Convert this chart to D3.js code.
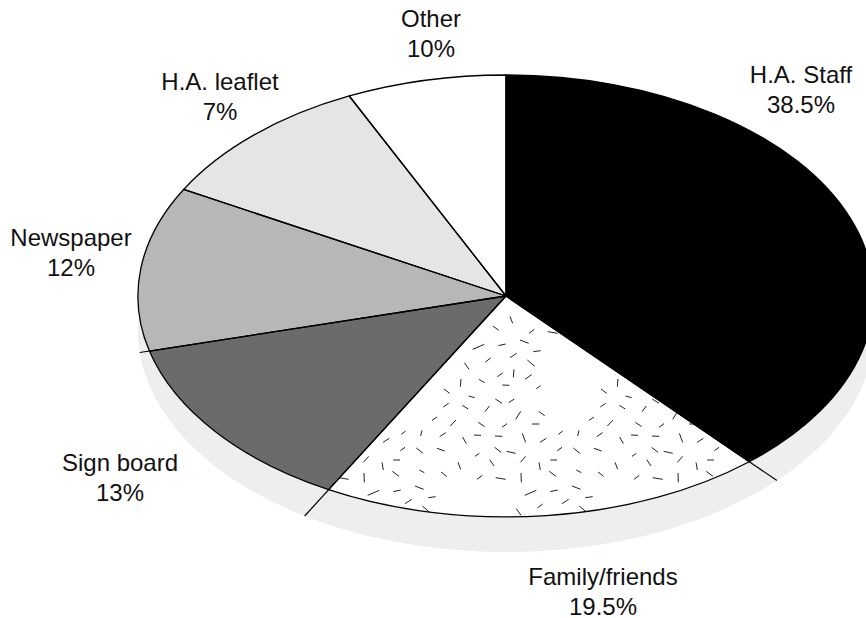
<!DOCTYPE html>
<html><head><meta charset="utf-8">
<script src="https://cdn.jsdelivr.net/npm/d3@7"></script>
<style>html,body{margin:0;padding:0;background:#fff}svg{display:block}text{font-family:"Liberation Sans",Arial,sans-serif;font-size:24px;fill:#111;text-anchor:middle}</style>
</head><body><div id="chart"></div>
<script>
// Wedges as drawn, clockwise from 12 o'clock
const wedgeNames = ["H.A. Staff","Family/friends","Sign board","Newspaper","H.A. leaflet","Other"];
const wedgeValues = [38.5,19.5,13,12,10,7];
const wedgeFills = ["#000000","#ffffff","#6b6b6b","#b7b7b7","#e5e5e5","#ffffff"];
// Labels as printed
const labelNames = ["H.A. Staff","Family/friends","Sign board","Newspaper","H.A. leaflet","Other"];
const labelValues = ["38.5%","19.5%","13%","12%","7%","10%"];
const labelX = [801,603,120,71,220,431];
const labelY = [83,585,471,246,90,27];
// Speckle texture dashes for one tile, in third-of-a-pixel units: x1, y1, x2, y2
const speckle = [[518,178,553,163],[595,167,617,162],[660,150,686,160],[700,185,722,182],[556,216,572,204],[630,203,650,190],[682,210,704,229],[493,218,507,238],[592,260,608,249],[642,238,640,262],[675,268,695,254],[537,268,554,278],[483,267,481,290],[607,285,628,286],[709,296,722,287],[432,297,449,310],[506,318,524,323],[586,327,606,340],[626,338,643,327],[430,351,446,340],[487,346,505,357],[555,365,568,348],[647,388,662,364],[716,364,734,377],[396,391,411,381],[451,408,468,390],[535,397,554,410],[606,412,621,401],[696,402,718,402],[304,433,317,423],[362,438,366,421],[419,440,437,428],[488,441,499,461],[522,435,543,436],[585,438,607,439],[667,430,677,457],[720,457,739,445],[301,482,315,472],[349,474,369,490],[411,475,434,483],[525,499,538,490],[584,472,603,487],[620,484,647,490],[661,517,677,499],[280,510,300,510],[474,517,482,538],[569,509,582,528],[717,517,721,540],[358,540,373,548],[423,546,440,559],[277,544,297,559],[531,568,547,556],[587,563,617,568],[663,549,664,577]];

const width = 866, height = 618;
const cx = 506, cy = 296, rx = 368, ry = 221, drop = 35;

const svg = d3.select("#chart").append("svg").attr("width",width).attr("height",height);

const pie = d3.pie().sort(null).value(d=>d)(wedgeValues);
const arc = d3.arc().innerRadius(0).outerRadius(1);

// Clip for the speckled wedge, in the same scaled frame as the wedges
const defs = svg.append("defs");
defs.append("clipPath").attr("id","famClip").append("path")
  .attr("transform",`translate(${cx},${cy}) scale(${rx},${ry})`)
  .attr("d",arc(pie[1]));

// Shadow
svg.append("ellipse").attr("cx",cx).attr("cy",cy+drop).attr("rx",rx).attr("ry",ry).attr("fill","#eeeeee");

// Leaders: radial lines continued to the shadow's rim
const lead = pie.slice(0,3).map(d=>{
  const s=Math.sin(d.endAngle), c=-Math.cos(d.endAngle), k=drop/ry;
  const t=k*c+Math.sqrt(k*k*c*c-k*k+1);
  return {x:cx+rx*s*t,y:cy+ry*c*t};
});
svg.selectAll("line.lead").data(lead).join("line").attr("class","lead")
  .attr("x1",cx).attr("y1",cy).attr("x2",d=>d.x).attr("y2",d=>d.y)
  .attr("stroke","#000").attr("stroke-width",1.2);

// Wedges
const g = svg.append("g").attr("transform",`translate(${cx},${cy}) scale(${rx},${ry})`);
g.selectAll("path").data(pie).join("path")
  .attr("d",arc).attr("fill",(d,i)=>wedgeFills[i]);

// Speckle dashes, tiled across the wedge's box and clipped to it
const tileW = 157, tileH = 146, tiles = [];
for (let j=-1; j<=1; j++) for (let i=-2; i<=2; i++) tiles.push([300+i*tileW+(j%2?52:0), 290+j*tileH]);
const sp = svg.append("g").attr("clip-path","url(#famClip)");
sp.selectAll("g").data(tiles).join("g").attr("transform",d=>`translate(${d[0]},${d[1]}) scale(${1/3})`)
  .selectAll("line").data(speckle).join("line")
  .attr("x1",d=>d[0]).attr("y1",d=>d[1]).attr("x2",d=>d[2]).attr("y2",d=>d[3])
  .attr("stroke","#222").attr("stroke-width",3);

// Wedge outlines on top
const g2 = svg.append("g").attr("transform",`translate(${cx},${cy}) scale(${rx},${ry})`);
g2.selectAll("path").data(pie).join("path")
  .attr("d",arc).attr("fill","none")
  .attr("stroke","#000").attr("stroke-width",1.3)
  .attr("vector-effect","non-scaling-stroke").attr("stroke-linejoin","round");

// Labels
const labels = svg.selectAll("g.lab").data(labelNames).join("g").attr("class","lab");
labels.append("text").attr("x",(d,i)=>labelX[i]).attr("y",(d,i)=>labelY[i]).text(d=>d);
labels.append("text").attr("x",(d,i)=>labelX[i]).attr("y",(d,i)=>labelY[i]+29.5).text((d,i)=>labelValues[i]);
</script></body></html>
